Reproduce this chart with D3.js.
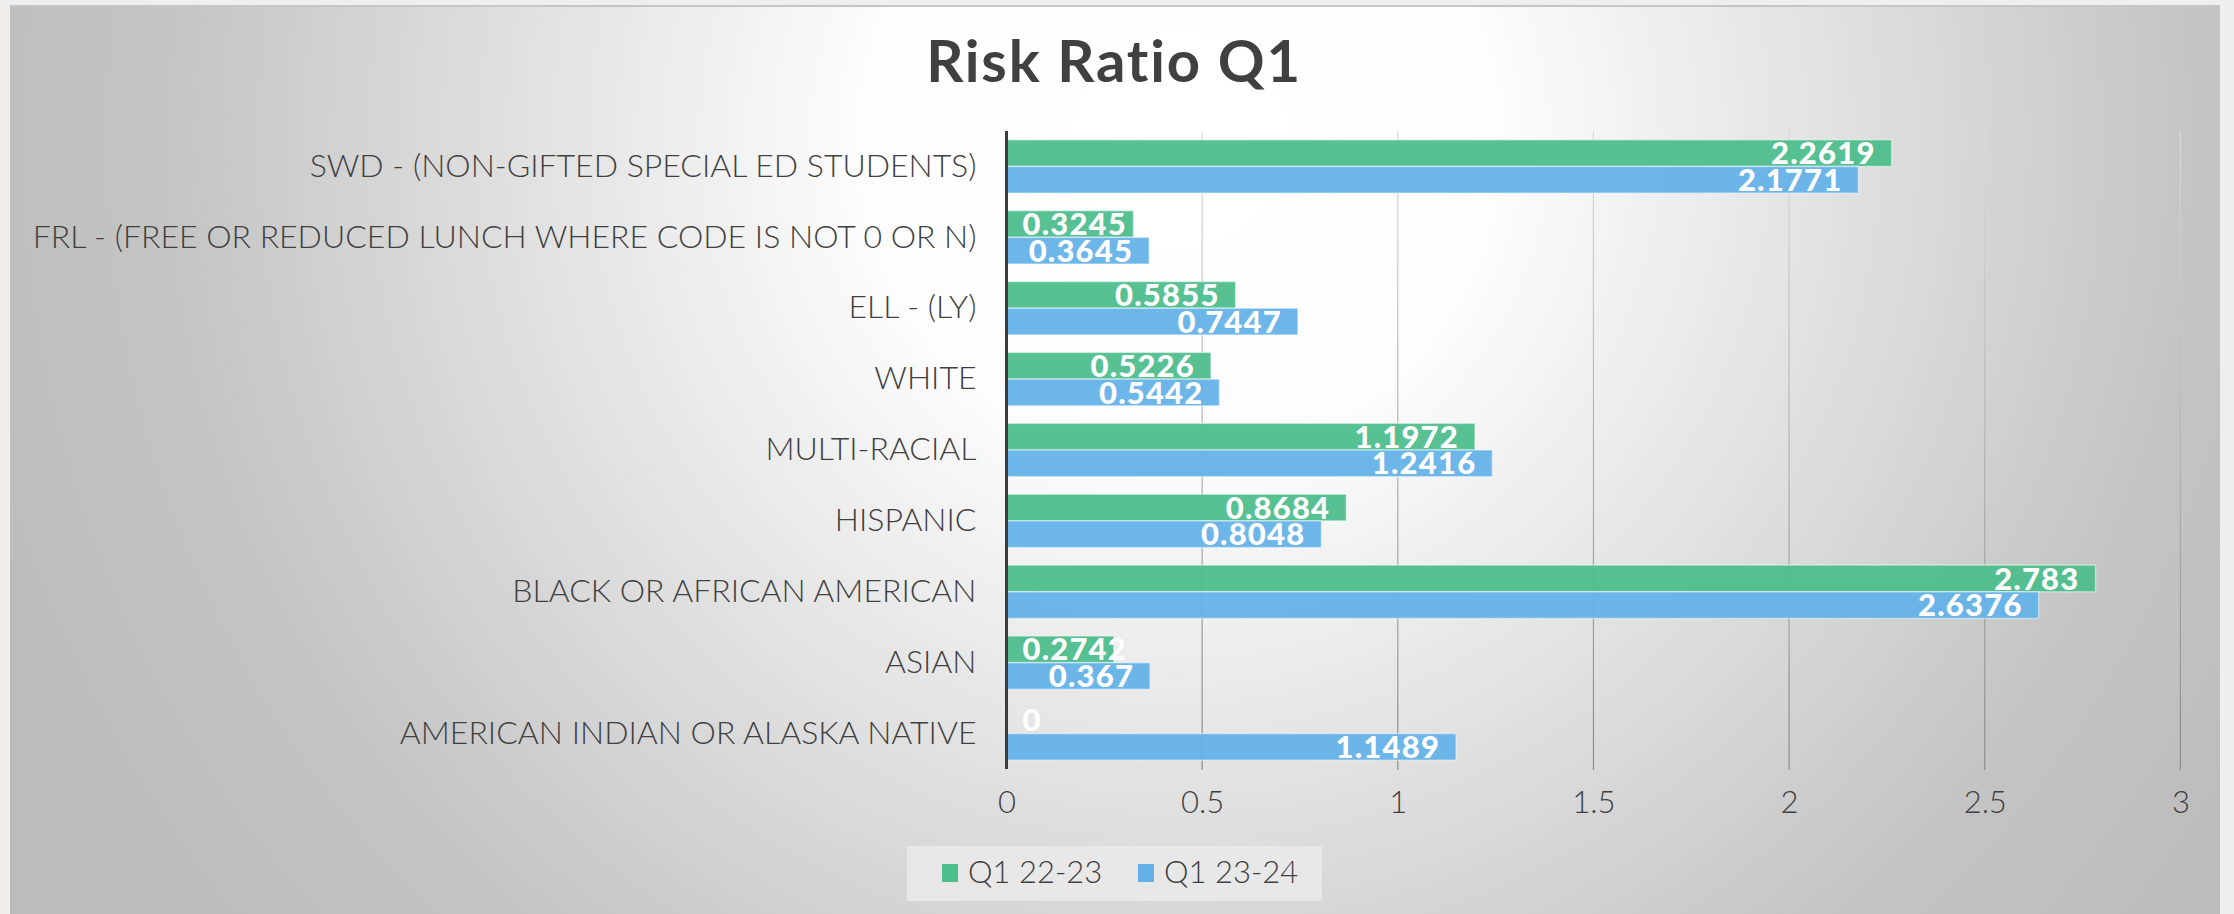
<!DOCTYPE html>
<html>
<head>
<meta charset="utf-8">
<script src="https://cdn.jsdelivr.net/npm/d3@7"></script>
<style>
  html, body { margin: 0; padding: 0; background: #f0efed; }
  svg { display: block; }
</style>
</head>
<body>
<svg id="chart"></svg>
<script>
// Chart data
const categories = [
  "SWD - (NON-GIFTED SPECIAL ED STUDENTS)",
  "FRL - (FREE OR REDUCED LUNCH WHERE CODE IS NOT 0 OR N)",
  "ELL - (LY)",
  "WHITE",
  "MULTI-RACIAL",
  "HISPANIC",
  "BLACK OR AFRICAN AMERICAN",
  "ASIAN",
  "AMERICAN INDIAN OR ALASKA NATIVE"
];
const seriesNames = ["Q1 22-23", "Q1 23-24"];
const q1_2223 = [2.2619, 0.3245, 0.5855, 0.5226, 1.1972, 0.8684, 2.783, 0.2742, 0];
const q1_2324 = [2.1771, 0.3645, 0.7447, 0.5442, 1.2416, 0.8048, 2.6376, 0.367, 1.1489];
const xTicks = [0, 0.5, 1, 1.5, 2, 2.5, 3];
const colors = ["#4dbd8c", "#64b1e8"];

const W = 2234, H = 914;
const plot = {left: 1006.5, right: 2180.4, top: 131, bottom: 769};

const svg = d3.select("#chart").attr("width", W).attr("height", H);

// Background gradient
const defs = svg.append("defs");
const bg = defs.append("radialGradient")
  .attr("id", "bg")
  .attr("gradientUnits", "userSpaceOnUse")
  .attr("cx", 1180).attr("cy", 140).attr("r", 1250);
bg.append("stop").attr("offset", 0).attr("stop-color", "#ffffff");
bg.append("stop").attr("offset", 0.25).attr("stop-color", "#fdfdfd");
bg.append("stop").attr("offset", 0.8).attr("stop-color", "#c5c5c5");
bg.append("stop").attr("offset", 1).attr("stop-color", "#bcbcbc");

const gridGrad = defs.append("linearGradient")
  .attr("id", "grid")
  .attr("gradientUnits", "userSpaceOnUse")
  .attr("x1", 0).attr("y1", plot.top).attr("x2", 0).attr("y2", plot.bottom);
gridGrad.append("stop").attr("offset", 0).attr("stop-color", "#dadada");
gridGrad.append("stop").attr("offset", 1).attr("stop-color", "#8c8c8c");

svg.append("rect")
  .attr("x", 10).attr("y", 5)
  .attr("width", 2210).attr("height", H - 5)
  .attr("fill", "url(#bg)");
svg.append("line")
  .attr("x1", 10).attr("x2", 2220)
  .attr("y1", 6).attr("y2", 6)
  .attr("stroke", "#c6c6c6").attr("stroke-width", 2);

// Scales
const x = d3.scaleLinear().domain([0, 3]).range([plot.left, plot.right]);
const y = d3.scaleBand()
  .domain(categories)
  .range([plot.top, plot.bottom])
  .paddingInner(0.247)
  .paddingOuter(0.1235);
const ySub = d3.scaleBand().domain(seriesNames).range([0, y.bandwidth()]);

// Title
svg.append("text")
  .attr("x", 1114).attr("y", 82)
  .attr("text-anchor", "middle")
  .attr("font-family", "Lato, sans-serif")
  .attr("font-weight", 700)
  .attr("font-size", "58px")
  .attr("letter-spacing", "1.8px")
  .attr("fill", "#404040")
  .text("Risk Ratio Q1");

// Gridlines
svg.append("g")
  .selectAll("line")
  .data(xTicks.filter(d => d > 0))
  .join("line")
  .attr("x1", d => x(d)).attr("x2", d => x(d))
  .attr("y1", plot.top).attr("y2", plot.bottom + 1)
  .attr("stroke", "url(#grid)")
  .attr("stroke-width", 1.2);

// X axis tick labels
const xAxis = svg.append("g")
  .attr("transform", `translate(0,${plot.bottom})`)
  .call(d3.axisBottom(x).tickValues(xTicks).tickSize(0).tickPadding(22).tickFormat(d3.format("")));
xAxis.select(".domain").remove();
xAxis.selectAll("text")
  .attr("font-family", "Lato, sans-serif")
  .attr("font-weight", 300)
  .attr("font-size", "31px")
  .attr("fill", "#404040");

// Category labels
const yAxis = svg.append("g")
  .attr("transform", `translate(${plot.left},0)`)
  .call(d3.axisLeft(y).tickSize(0).tickPadding(30));
yAxis.select(".domain").remove();
yAxis.selectAll("text")
  .attr("font-family", "Lato, sans-serif")
  .attr("font-weight", 300)
  .attr("font-size", "32px")
  .attr("fill", "#404040");

// Bars
const rows = categories.map((c, i) => ({cat: c, values: [q1_2223[i], q1_2324[i]]}));
const groups = svg.append("g")
  .selectAll("g")
  .data(rows)
  .join("g")
  .attr("transform", d => `translate(0,${y(d.cat)})`);

const bars = groups.selectAll("g")
  .data(d => d.values.map((v, j) => ({series: seriesNames[j], value: v, j: j})))
  .join("g");

bars.append("rect")
  .attr("x", x(0))
  .attr("y", d => ySub(d.series))
  .attr("width", d => x(d.value) - x(0))
  .attr("height", ySub.bandwidth())
  .attr("fill", d => colors[d.j])
  .attr("fill-opacity", 0.94)
  .attr("stroke", "#ffffff")
  .attr("stroke-opacity", d => d.value > 0 ? 0.45 : 0)
  .attr("stroke-width", 1.5);

// Value labels, inside end, pushed right of the bar start when too short
bars.append("text")
  .attr("y", d => ySub(d.series) + ySub.bandwidth() / 2)
  .attr("dy", "0.36em")
  .attr("font-family", "Lato, sans-serif")
  .attr("font-weight", 900)
  .attr("font-size", "31px")
  .attr("letter-spacing", "1.2px")
  .attr("fill", "#ffffff")
  .text(d => String(d.value))
  .each(function(d) {
    const w = this.getComputedTextLength();
    const end = Math.max(x(d.value) - 16, x(0) + 16 + w);
    d3.select(this).attr("x", end).attr("text-anchor", "end");
  });

// Vertical axis line
svg.append("line")
  .attr("x1", plot.left).attr("x2", plot.left)
  .attr("y1", plot.top).attr("y2", plot.bottom)
  .attr("stroke", "#3c3c3c")
  .attr("stroke-width", 3);

// Legend
const legend = svg.append("g");
legend.append("rect")
  .attr("x", 907).attr("y", 846)
  .attr("width", 415).attr("height", 55)
  .attr("fill", "#ececec")
  .attr("fill-opacity", 0.75);
const legendX = [942, 1138];
seriesNames.forEach((s, j) => {
  legend.append("rect")
    .attr("x", legendX[j]).attr("y", 864)
    .attr("width", 16).attr("height", 18)
    .attr("fill", colors[j]);
  legend.append("text")
    .attr("x", legendX[j] + 26).attr("y", 883)
    .attr("font-family", "Lato, sans-serif")
    .attr("font-weight", 300)
    .attr("font-size", "31px")
    .attr("fill", "#404040")
    .text(s);
});
</script>
</body>
</html>
